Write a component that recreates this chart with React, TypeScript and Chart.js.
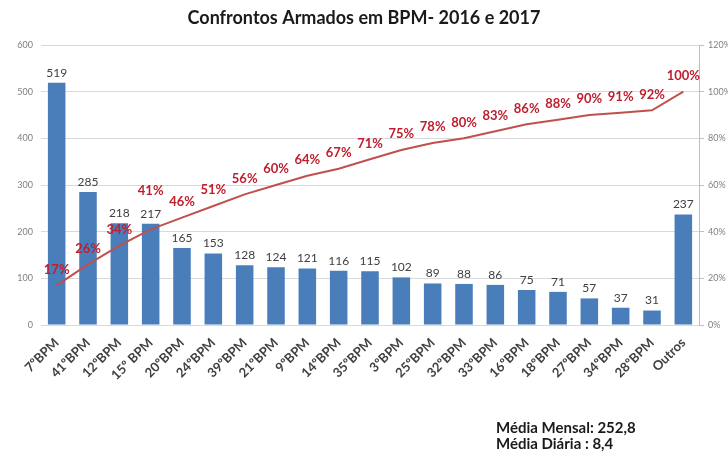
import { useEffect, useRef } from "react";
import { Chart, registerables } from "chart.js";

Chart.register(...registerables);

const categories = [
  "7ºBPM", "41ºBPM", "12ºBPM", "15º BPM", "20ºBPM", "24ºBPM", "39ºBPM", "21ºBPM",
  "9ºBPM", "14ºBPM", "35ºBPM", "3ºBPM", "25ºBPM", "32ºBPM", "33ºBPM", "16ºBPM",
  "18ºBPM", "27ºBPM", "34ºBPM", "28ºBPM", "Outros",
];
const confrontos = [519, 285, 218, 217, 165, 153, 128, 124, 121, 116, 115, 102, 89, 88, 86, 75, 71, 57, 37, 31, 237];
const acumuladoPct = [17, 26, 34, 41, 46, 51, 56, 60, 64, 67, 71, 75, 78, 80, 83, 86, 88, 90, 91, 92, 100];
const titleText = "Confrontos Armados em BPM- 2016 e 2017";
const notes = ["Média Mensal: 252,8", "Média Diária : 8,4"];

const FONT = "Lato, 'Open Sans', sans-serif";

const labelPlugin = {
  id: "valueLabels",
  afterDatasetsDraw(chart: any) {
    const ctx = chart.ctx;
    ctx.save();
    const barMeta = chart.getDatasetMeta(0);
    ctx.font = `12px ${FONT}`;
    ctx.fillStyle = "#404040";
    ctx.textAlign = "center";
    ctx.textBaseline = "bottom";
    barMeta.data.forEach((el: any, i: number) => {
      ctx.fillText(String(confrontos[i]), el.x, el.y - 4);
    });
    const lineMeta = chart.getDatasetMeta(1);
    ctx.font = `bold 13px ${FONT}`;
    ctx.fillStyle = "#BE1E2D";
    ctx.textBaseline = "middle";
    lineMeta.data.forEach((el: any, i: number) => {
      const lift = i === 3 ? 39 : 16;
      ctx.fillText(acumuladoPct[i] + "%", el.x, el.y - lift);
    });
    ctx.restore();
  },
};

export default function App() {
  const ref = useRef<HTMLCanvasElement | null>(null);
  useEffect(() => {
    document.body.style.margin = "0";
    if (!ref.current) return;
    const chart = new Chart(ref.current, {
      type: "bar",
      data: {
        labels: categories,
        datasets: [
          {
            type: "bar",
            data: confrontos,
            backgroundColor: "#4A7EBB",
            barPercentage: 0.56,
            categoryPercentage: 1,
            yAxisID: "y",
            order: 2,
          },
          {
            type: "line",
            data: acumuladoPct.map((v) => v / 100),
            borderColor: "#C0504D",
            borderWidth: 2,
            pointRadius: 0,
            tension: 0,
            yAxisID: "y1",
            order: 1,
          } as any,
        ],
      },
      options: {
        animation: false,
        responsive: false,
        layout: { padding: { top: 0, bottom: 73, left: 0, right: 0 } },
        plugins: {
          legend: { display: false },
          tooltip: { enabled: false },
          title: {
            display: true,
            text: titleText,
            color: "#1a1a1a",
            font: { family: FONT, size: 18, weight: "bold" },
            padding: { top: 7, bottom: 16.4 },
          },
        },
        scales: {
          x: {
            grid: { display: false },
            border: { display: false },
            ticks: {
              autoSkip: false,
              maxRotation: 45,
              minRotation: 45,
              color: "#404040",
              font: { family: FONT, size: 13, weight: "bold" },
              padding: 2,
              labelOffset: 0,
            },
            afterFit: (s: any) => { s.height = 55; },
          },
          y: {
            position: "left",
            min: 0,
            max: 600,
            ticks: { stepSize: 100, color: "#7f7f7f", font: { family: FONT, size: 9 }, padding: 8 },
            grid: { color: "#d9d9d9", drawTicks: false },
            border: { display: false },
            afterFit: (s: any) => { s.width = 41; },
          },
          y1: {
            position: "right",
            min: 0,
            max: 1.2,
            ticks: {
              stepSize: 0.2,
              color: "#7f7f7f",
              font: { family: FONT, size: 9 },
              padding: 4,
              callback: (v: any) => Math.round(Number(v) * 100) + "%",
            },
            grid: { drawOnChartArea: false, tickLength: 5, color: "#bfbfbf" },
            border: { display: true, color: "#bfbfbf" },
            afterFit: (s: any) => { s.width = 29; },
          },
        },
      } as any,
      plugins: [labelPlugin],
    });
    return () => chart.destroy();
  }, []);

  return (
    <div style={{ position: "relative", width: 728, height: 453, background: "#fff" }}>
      <canvas ref={ref} width={728} height={453} style={{ display: "block" }} />
      <div
        style={{
          position: "absolute",
          left: 496,
          top: 419,
          fontFamily: FONT,
          fontWeight: "bold",
          fontSize: 15,
          lineHeight: "16px",
          color: "#1a1a1a",
        }}
      >
        {notes.map((n) => (
          <div key={n}>{n}</div>
        ))}
      </div>
    </div>
  );
}
